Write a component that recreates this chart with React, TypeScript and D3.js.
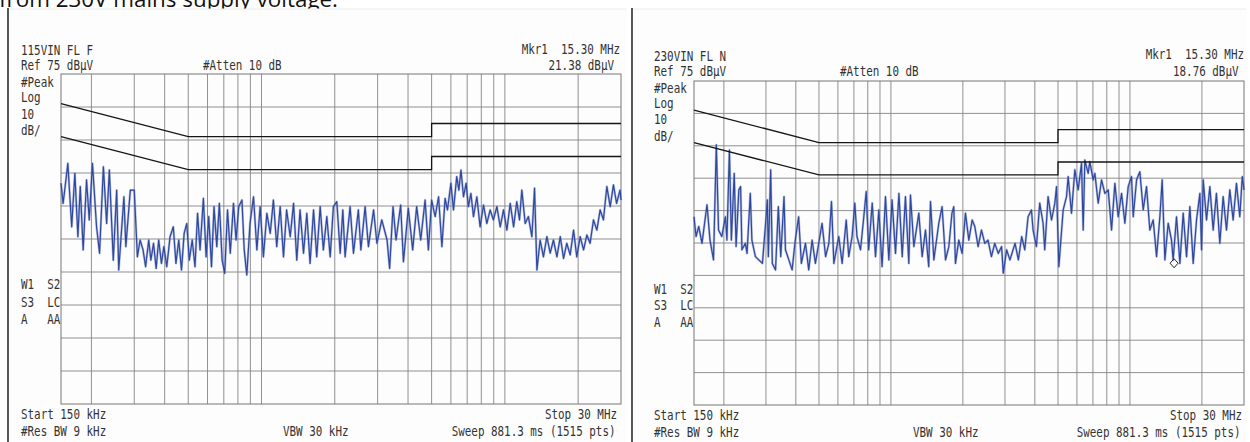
import React from "react";
import * as d3 from "d3";

// ---------- data ----------
const gridFreqsMHz = [0.2, 0.3, 0.4, 0.5, 0.6, 0.7, 0.8, 0.9, 1, 2, 3, 4, 5, 6, 7, 8, 9, 10, 20];
const gridLevels = [65, 55, 45, 35, 25, 15, 5, -5, -15];
const limitFreq = [0.15, 0.5, 5, 5, 30];
const limitQPLevel = [66, 56, 56, 60, 60];
const limitAVLevel = [56, 46, 46, 50, 50];

const freqL = [0.150,0.153,0.156,0.160,0.166,0.171,0.176,0.180,0.185,0.191,
0.196,0.202,0.210,0.216,0.224,0.231,0.237,0.246,0.254,0.259,
0.272,0.277,0.289,0.300,0.309,0.317,0.326,0.334,0.344,0.351,
0.360,0.369,0.378,0.388,0.397,0.408,0.421,0.434,0.445,0.457,
0.469,0.481,0.493,0.505,0.519,0.533,0.546,0.559,0.577,0.592,
0.607,0.623,0.638,0.655,0.671,0.689,0.706,0.725,0.744,0.767,
0.786,0.806,0.831,0.849,0.870,0.897,0.927,0.957,0.987,1.018,
1.052,1.086,1.119,1.155,1.193,1.231,1.268,1.312,1.354,1.396,
1.440,1.488,1.535,1.583,1.636,1.686,1.742,1.795,1.855,1.915,
1.974,2.039,2.105,2.158,2.205,2.312,2.387,2.50,2.56,2.665,
2.75,2.887,2.98,3.12,3.28,3.36,3.47,3.57,3.73,3.83,
4.01,4.18,4.34,4.51,4.70,4.85,5.00,5.17,5.34,5.51,
5.68,5.81,6.00,6.15,6.34,6.47,6.60,6.76,6.93,7.08,
7.25,7.43,7.67,7.91,8.17,8.43,8.70,8.97,9.27,9.57,
9.87,10.19,10.52,10.86,11.19,11.48,11.74,12.12,12.49,12.91,
13.24,13.54,13.96,14.40,14.88,15.35,15.83,16.36,16.89,17.42,
17.96,18.55,19.15,19.74,20.39,21.05,21.72,22.39,23.12,23.87,
24.63,25.40,26.24,27.08,27.93,28.77,29.72,30.0];
const levelL = [41.9,35.8,40.9,47.9,28.7,44.9,25.7,40.9,21.7,42.9,
30.8,47.9,28.7,20.7,46.9,29.7,45.9,18.6,39.8,15.6,
37.8,22.7,39.8,39.8,19.6,24.7,21.7,16.6,24.7,18.6,
23.7,16.1,24.7,17.6,22.7,16.6,25.7,28.7,17.6,24.7,
15.6,26.7,29.7,18.6,24.7,16.6,32.8,21.7,37.3,19.6,
31.8,16.6,34.8,22.7,35.8,18.6,14.6,33.8,20.7,35.8,
24.7,34.8,36.8,21.7,14.1,29.7,37.8,21.7,34.8,19.6,
32.8,26.7,36.8,22.7,34.8,19.6,33.8,25.7,35.8,18.6,
33.8,20.7,32.8,17.6,33.8,19.6,34.8,21.7,31.8,19.6,
34.8,36.3,20.7,33.8,19.6,34.8,20.7,33.8,21.7,34.8,
22.7,33.8,23.7,30.8,24.7,16.1,34.8,24.7,35.3,18.1,
34.3,21.7,34.8,24.7,36.8,21.7,36.8,31.8,37.8,22.7,
37.3,33.8,41.9,33.8,43.9,39.8,45.9,37.8,41.9,34.8,
38.8,31.8,37.8,28.7,35.3,29.7,33.8,30.8,34.8,28.7,
33.8,27.7,35.8,28.7,36.3,30.8,39.8,29.7,31.8,25.7,
40.4,15.6,24.7,19.6,25.7,20.7,24.7,19.6,25.7,19.1,
23.7,20.2,27.7,19.6,25.7,21.7,26.2,23.7,30.8,27.7,
33.8,30.8,40.9,34.8,41.4,35.8,39.8,36.8];

const freqR = [0.150,0.153,0.157,0.162,0.170,0.175,0.181,0.186,0.190,0.196,
0.203,0.206,0.211,0.215,0.221,0.225,0.231,0.235,0.238,0.246,
0.250,0.258,0.262,0.271,0.280,0.290,0.299,0.304,0.307,0.314,
0.319,0.329,0.338,0.346,0.357,0.362,0.374,0.386,0.398,0.411,
0.422,0.439,0.453,0.468,0.483,0.515,0.533,0.550,0.564,0.577,
0.605,0.625,0.650,0.666,0.688,0.706,0.721,0.746,0.770,0.788,
0.807,0.835,0.862,0.890,0.918,0.949,0.980,1.011,1.045,1.080,
1.115,1.150,1.188,1.207,1.247,1.308,1.351,1.395,1.439,1.464,
1.512,1.586,1.637,1.692,1.747,1.800,1.832,1.862,1.923,1.985,
2.050,2.118,2.187,2.243,2.316,2.392,2.47,2.547,2.633,2.718,
2.812,2.904,2.951,3.047,3.147,3.306,3.413,3.525,3.630,3.748,
3.871,3.933,4.062,4.193,4.330,4.400,4.544,4.697,4.850,4.929,
5.041,5.255,5.427,5.514,5.694,5.881,6.073,6.271,6.373,6.475,
6.686,6.794,7.016,7.130,7.365,7.605,7.853,8.110,8.374,8.647,
8.93,9.222,9.523,9.833,10.15,10.32,10.66,11.00,11.36,11.73,
12.11,12.51,12.92,13.34,13.64,14.00,14.45,14.92,15.16,15.66,
16.18,16.70,17.25,17.81,18.39,18.99,19.61,19.93,20.25,20.91,
21.59,22.29,23.00,23.77,24.54,25.35,26.17,27.02,27.90,28.81,
29.51,30.0];
const levelR = [33.1,27.0,30.1,24.9,36.8,25.9,19.8,55.3,29.0,27.0,
33.1,25.9,53.7,25.9,46.5,23.9,41.4,42.4,22.9,24.9,
21.8,40.3,25.9,20.8,19.8,18.7,31.1,38.3,20.8,47.6,
18.7,16.7,36.2,20.8,39.3,22.9,19.8,16.7,25.9,33.1,
18.7,24.9,16.7,25.9,18.7,31.1,20.8,24.9,37.8,18.7,
27.0,18.7,32.1,20.8,27.0,37.3,27.0,22.9,33.1,40.9,
22.9,37.3,20.8,35.2,17.7,39.3,19.8,38.3,21.8,40.3,
20.8,39.3,18.7,39.8,23.9,34.2,20.8,29.0,17.7,37.8,
19.8,31.1,36.2,19.8,23.9,34.2,36.2,18.7,25.9,21.8,
34.2,25.9,32.1,30.1,23.9,29.0,24.9,25.9,20.8,24.9,
21.8,23.9,15.7,22.9,19.8,24.9,19.8,27.0,22.9,33.1,
35.2,29.0,23.9,37.3,31.1,22.9,39.3,32.1,37.3,42.4,
17.7,35.2,39.3,45.5,34.2,47.6,41.4,49.6,29.0,50.6,
46.5,50.1,44.5,46.5,37.3,44.5,40.3,41.4,29.0,43.4,
33.1,40.3,31.1,42.4,45.5,33.1,44.5,47.0,35.2,42.4,
29.0,32.1,20.8,33.1,44.5,19.8,31.1,25.9,19.8,33.1,
18.7,34.2,20.8,36.2,18.7,32.1,40.3,22.9,44.5,32.1,
42.4,29.0,40.3,24.9,39.3,29.0,41.4,32.1,43.4,33.1,
45.5,41.4];

const markerFreqMHz = 15.30;
const markerLevelR = 18.76;

const captionText = "from 230V mains supply voltage.";
const leftTitle = "115VIN FL F";
const rightTitle = "230VIN FL N";
const refText = "Ref 75 dB\u03bcV";
const attenText = "#Atten 10 dB";
const mkrText = "Mkr1  15.30 MHz";
const mkrValL = "21.38 dB\u03bcV";
const mkrValR = "18.76 dB\u03bcV";
const sideTop = ["#Peak", "Log", "10", "dB/"];
const sideBottom = ["W1  S2", "S3  LC", "A   AA"];
const startText = "Start 150 kHz";
const resText = "#Res BW 9 kHz";
const vbwText = "VBW 30 kHz";
const stopText = "Stop 30 MHz";
const sweepText = "Sweep 881.3 ms (1515 pts)";

// ---------- drawing ----------
function T({ x, y, s, end }: { x: number; y: number; s: string; end?: boolean }) {
  return (
    <g transform={`translate(${x},${y}) scale(1,1.28)`}>
      <text
        x={0}
        y={0}
        textAnchor={end ? "end" : "start"}
        fontFamily="'DejaVu Sans Mono', monospace"
        fontSize={10.9}
        fill="#333"
        xmlSpace="preserve"
        style={{ whiteSpace: "pre" }}
      >
        {s}
      </text>
    </g>
  );
}

type PanelProps = {
  x0: number; x1: number; y0: number; y1: number;
  freq: number[]; level: number[];
  lx: number;
  title: string; mkrVal: string;
  rows: {
    title: number; ref: number; attenX: number; mkr: number; mkrEnd: number; mkrVal: number; mkrValEnd: number;
    side: number[]; bottom: number[]; start: number; res: number; vbwX: number; stopEnd: number; sweepEnd: number;
  };
  marker?: boolean;
};

function Panel(p: PanelProps) {
  const x = d3.scaleLog().domain([0.15, 30]).range([p.x0, p.x1]);
  const y = d3.scaleLinear().domain([-25, 75]).range([p.y1, p.y0]);
  const n = Math.min(p.freq.length, p.level.length);
  const pts: [number, number][] = d3.range(n).map((i) => [p.freq[i], p.level[i]]);
  const line = d3.line<[number, number]>().x((d) => x(d[0])).y((d) => y(d[1]));
  const lim = (lv: number[]) => line(limitFreq.map((f, i) => [f, lv[i]] as [number, number])) || "";
  const r = p.rows;
  return (
    <g>
      {gridFreqsMHz.map((f) => (
        <line key={"v" + f} x1={x(f)} x2={x(f)} y1={p.y0} y2={p.y1} stroke="#858585" strokeWidth={0.9} />
      ))}
      {gridLevels.map((l) => (
        <line key={"h" + l} x1={p.x0} x2={p.x1} y1={y(l)} y2={y(l)} stroke="#858585" strokeWidth={0.9} />
      ))}
      <rect x={p.x0} y={p.y0} width={p.x1 - p.x0} height={p.y1 - p.y0} fill="none" stroke="#777" strokeWidth={1} />
      <path d={line(pts) || ""} fill="none" stroke="#7e8fcc" strokeWidth={2.4} strokeLinejoin="round" opacity={0.55} />
      <path d={line(pts) || ""} fill="none" stroke="#2f479e" strokeWidth={1.2} strokeLinejoin="round" />
      <path d={lim(limitQPLevel)} fill="none" stroke="#151515" strokeWidth={1.3} />
      <path d={lim(limitAVLevel)} fill="none" stroke="#151515" strokeWidth={1.3} />
      {p.marker && (
        <path
          d={`M${x(markerFreqMHz)},${y(markerLevelR) - 4.5} l4,4.5 l-4,4.5 l-4,-4.5 Z`}
          fill="none"
          stroke="#222"
          strokeWidth={1}
        />
      )}
      <T x={p.lx} y={r.title} s={p.title} />
      <T x={p.lx} y={r.ref} s={refText} />
      <T x={r.attenX} y={r.ref} s={attenText} />
      <T x={r.mkrEnd} y={r.mkr} s={mkrText} end />
      <T x={r.mkrValEnd} y={r.mkrVal} s={p.mkrVal} end />
      {sideTop.map((s, i) => <T key={s} x={p.lx} y={r.side[i]} s={s} />)}
      {sideBottom.map((s, i) => <T key={s} x={p.lx} y={r.bottom[i]} s={s} />)}
      <T x={p.lx} y={r.start} s={startText} />
      <T x={p.lx} y={r.res} s={resText} />
      <T x={r.vbwX} y={r.res} s={vbwText} />
      <T x={r.stopEnd} y={r.start} s={stopText} end />
      <T x={r.sweepEnd} y={r.res} s={sweepText} end />
    </g>
  );
}

export default function App() {
  return (
    <svg
      width={1250}
      height={442}
      viewBox="0 0 1250 442"
      style={{ position: "absolute", left: 0, top: 0, background: "#fff" }}
    >
      <rect x={0} y={0} width={1250} height={442} fill="#fff" />
      <text
        x={-1}
        y={6.5}
        fontFamily="'Open Sans', 'Liberation Sans', sans-serif"
        fontSize={21}
        fill="#111"
        textLength={339}
        lengthAdjust="spacingAndGlyphs"
      >
        {captionText}
      </text>
      <rect x={8} y={9} width={620} height={440} fill="#fdfdfd" />
      <rect x={632} y={9} width={614} height={440} fill="#fdfdfd" />
      <line x1={9} x2={627} y1={9} y2={9} stroke="#ececec" />
      <line x1={633} x2={1246} y1={9} y2={9} stroke="#ececec" />
      <line x1={8} x2={8} y1={8} y2={442} stroke="#111" strokeWidth={1.4} />
      <line x1={632} x2={632} y1={8} y2={442} stroke="#111" strokeWidth={1.4} />
      <Panel
        x0={61} x1={621} y0={74} y1={404}
        freq={freqL} level={levelL}
        lx={21} title={leftTitle} mkrVal={mkrValL}
        rows={{
          title: 55, ref: 70, attenX: 203, mkr: 53.5, mkrEnd: 620, mkrVal: 70, mkrValEnd: 614,
          side: [87, 102, 119, 135], bottom: [289, 307, 324], start: 418.5, res: 436, vbwX: 283,
          stopEnd: 617, sweepEnd: 615.5,
        }}
      />
      <Panel
        x0={694} x1={1244} y0={81} y1={405}
        freq={freqR} level={levelR}
        lx={654} title={rightTitle} mkrVal={mkrValR}
        marker
        rows={{
          title: 60.5, ref: 75.5, attenX: 840, mkr: 59, mkrEnd: 1244, mkrVal: 76, mkrValEnd: 1238.5,
          side: [92.5, 107.5, 124, 140.5], bottom: [293.5, 310, 326.5], start: 420, res: 437, vbwX: 913,
          stopEnd: 1242, sweepEnd: 1240.5,
        }}
      />
    </svg>
  );
}
